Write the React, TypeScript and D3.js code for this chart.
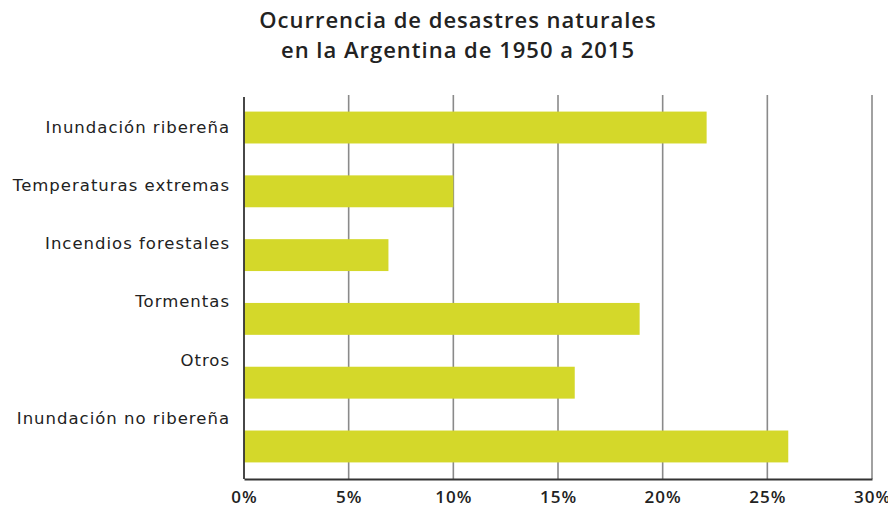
import React, { useEffect, useRef } from "react";
import * as d3 from "d3";

const categories = [
  "Inundación ribereña",
  "Temperaturas extremas",
  "Incendios forestales",
  "Tormentas",
  "Otros",
  "Inundación no ribereña",
];
const values = [22.1, 10, 6.9, 18.9, 15.8, 26];
const xTicks = [0, 5, 10, 15, 20, 25, 30];
const titleLines = ["Ocurrencia de desastres naturales", "en la Argentina de 1950 a 2015"];

const Chart = () => {
  const ref = useRef<SVGSVGElement>(null);

  useEffect(() => {
    if (!ref.current) return;
    const svg = d3.select(ref.current);
    svg.selectAll("*").remove();

    const width = 896;
    const height = 511;
    const left = 244;
    const right = 872;
    const top = 95;
    const bottom = 479;

    const x = d3.scaleLinear().domain([0, 30]).range([left, right]);
    const y = d3
      .scaleBand()
      .domain(categories)
      .range([top, bottom])
      .paddingInner(0.5)
      .paddingOuter(0.26);
    // labels sit on their own, slightly tighter spacing
    const yLabel = d3.scalePoint().domain(categories).range([127, 418]);

    svg.attr("width", width).attr("height", height);

    // title
    svg
      .append("text")
      .attr("y", 28)
      .attr("text-anchor", "middle")
      .style("font-family", "'Open Sans', sans-serif")
      .style("font-weight", 600)
      .style("font-size", "22px")
      .style("letter-spacing", "1px")
      .style("fill", "#222")
      .selectAll("tspan")
      .data(titleLines)
      .enter()
      .append("tspan")
      .attr("x", 458)
      .attr("dy", (_d, i) => (i === 0 ? 0 : 30))
      .text((d) => d);

    // gridlines
    svg
      .append("g")
      .selectAll("line")
      .data(xTicks.slice(1))
      .enter()
      .append("line")
      .attr("x1", (d) => x(d))
      .attr("x2", (d) => x(d))
      .attr("y1", top)
      .attr("y2", bottom)
      .attr("stroke", "#8a8a8a")
      .attr("stroke-width", 1.6);

    // bars
    svg
      .append("g")
      .selectAll("rect")
      .data(values)
      .enter()
      .append("rect")
      .attr("x", x(0))
      .attr("y", (_d, i) => y(categories[i]) as number)
      .attr("width", (d) => x(d) - x(0))
      .attr("height", y.bandwidth())
      .attr("fill", "#d4d82a");

    // category labels
    svg
      .append("g")
      .selectAll("text")
      .data(categories)
      .enter()
      .append("text")
      .attr("x", 230)
      .attr("y", (d) => yLabel(d) as number)
      .attr("dy", "0.35em")
      .attr("text-anchor", "end")
      .style("font-family", "'DejaVu Sans', sans-serif")
      .style("font-size", "16.5px")
      .style("letter-spacing", "1px")
      .style("fill", "#222")
      .text((d) => d);

    // x axis
    const xAxis = d3
      .axisBottom(x)
      .tickValues(xTicks)
      .tickSize(0)
      .tickPadding(12)
      .tickFormat((d) => `${d}%`);
    const gx = svg.append("g").attr("transform", `translate(0,${bottom})`).call(xAxis);
    gx.select(".domain").attr("stroke", "#333").attr("stroke-width", 1.8);
    gx.selectAll("text")
      .style("font-family", "'Open Sans', sans-serif")
      .style("font-weight", 600)
      .style("font-size", "17px")
      .style("letter-spacing", "1px")
      .style("fill", "#222");

    // y axis line
    svg
      .append("line")
      .attr("x1", left)
      .attr("x2", left)
      .attr("y1", top + 2)
      .attr("y2", bottom)
      .attr("stroke", "#333")
      .attr("stroke-width", 1.8);
  }, []);

  return <svg ref={ref} style={{ display: "block" }} />;
};

function App() {
  return (
    <div style={{ margin: -8 }}>
      <Chart />
    </div>
  );
}

export default App;
